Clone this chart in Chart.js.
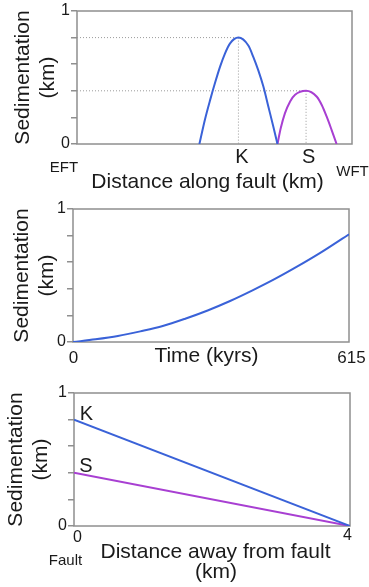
<!DOCTYPE html>
<html>
<head>
<meta charset="utf-8">
<script src="https://cdn.jsdelivr.net/npm/chart.js@4.4.1/dist/chart.umd.min.js"></script>
<style>
  html, body { margin: 0; padding: 0; background: #fff; }
  #wrap { position: relative; width: 369px; height: 587px; overflow: hidden; }
  canvas { position: absolute; left: 0; }
</style>
</head>
<body>
<div id="wrap">
  <canvas id="c1" width="369" height="195" style="top:0px"></canvas>
  <canvas id="c2" width="369" height="180" style="top:195px"></canvas>
  <canvas id="c3" width="369" height="212" style="top:375px"></canvas>
</div>
<script>
// panel 1: sedimentation along the fault (EFT = 0 .. WFT = 100)
var kDist = [44.5, 46.6, 48.4, 50.2, 52.0, 53.8, 55.6, 58.7, 62.3, 64.1, 65.9, 67.8, 69.6, 71.4, 72.9];
var kSed  = [0, 0.19, 0.33, 0.46, 0.58, 0.68, 0.755, 0.8, 0.74, 0.655, 0.555, 0.43, 0.28, 0.13, 0];
var sDist = [72.9, 74.1, 75.6, 77.5, 79.3, 83.3, 87.2, 89.0, 90.8, 92.6, 94.4];
var sSed  = [0, 0.12, 0.23, 0.32, 0.37, 0.4, 0.355, 0.293, 0.205, 0.105, 0];

// panel 2: sedimentation through time
var timeKyr = [0, 50, 100, 150, 200, 250, 300, 350, 400, 450, 500, 550, 615];
var timeSed = [0, 0.02, 0.045, 0.08, 0.12, 0.175, 0.237, 0.308, 0.388, 0.474, 0.568, 0.668, 0.81];

// panel 3: sedimentation away from the fault
var awayKm = [0, 4];
var awayK  = [0.8, 0];
var awayS  = [0.4, 0];

// tick labels
var sedTicks  = [0, 1];
var timeTicks = [0, 615];
var awayTicks = [0, 4];

var FONT = '"Liberation Sans", Arial, sans-serif';
var INK = '#1a1a1a';
var GREY = '#8f8f8f';
var BLUE = '#3a62d8';
var PURPLE = '#a83fd2';

function pts(xs, ys) {
    return xs.map(function (x, i) { return {x: x, y: ys[i]}; });
}

function peakOf(xs, ys) {
    var m = 0;
    for (var i = 1; i < ys.length; i++) {
        if (ys[i] > ys[m]) m = i;
    }
    return {x: xs[m], y: ys[m]};
}

function curve(data, color) {
    return {
        data: data, borderColor: color, borderWidth: 2, pointRadius: 0,
        cubicInterpolationMode: 'monotone', fill: false
    };
}

function guide(data) {
    return {
        data: data, borderColor: '#9a9a9a', borderWidth: 1, borderDash: [1, 2],
        pointRadius: 0, fill: false
    };
}

// plot frame on all four sides
var boxPlugin = {
    id: 'box',
    beforeDatasetsDraw: function (chart) {
        var a = chart.chartArea, ctx = chart.ctx;
        ctx.save();
        ctx.strokeStyle = GREY;
        ctx.lineWidth = 1.5;
        ctx.strokeRect(a.left, a.top, a.right - a.left, a.bottom - a.top);
        ctx.restore();
    }
};

// free text placed in data units (baseline at y)
var notesPlugin = {
    id: 'notes',
    afterDraw: function (chart, args, opts) {
        var ctx = chart.ctx, sx = chart.scales.x, sy = chart.scales.y;
        var items = opts.items || [];
        for (var i = 0; i < items.length; i++) {
            var n = items[i];
            ctx.save();
            ctx.font = n.size + 'px ' + FONT;
            ctx.fillStyle = INK;
            ctx.textAlign = 'center';
            ctx.textBaseline = 'alphabetic';
            ctx.fillText(n.text, sx.getPixelForValue(n.x) + (n.dx || 0), sy.getPixelForValue(n.y));
            ctx.restore();
        }
    }
};

function sedAxis(width, titlePad) {
    return {
        type: 'linear', min: 0, max: 1,
        afterFit: function (s) { s.width = width; },
        border: {display: false},
        grid: {drawOnChartArea: false, drawTicks: true, tickLength: 6, color: GREY, lineWidth: 1.5},
        ticks: {
            stepSize: 0.2, padding: 1, color: INK, font: {family: FONT, size: 16},
            callback: function (v) { return sedTicks.indexOf(v) >= 0 ? String(v) : ''; }
        },
        title: {
            display: true, text: ['Sedimentation', '(km)'], color: INK,
            font: {family: FONT, size: 21, lineHeight: '25px'},
            padding: {top: titlePad, bottom: 0}
        }
    };
}

function makeChart(id, datasets, xMin, xMax, yWidth, titlePad, pad, notes) {
    return new Chart(document.getElementById(id), {
        type: 'line',
        data: {datasets: datasets},
        options: {
            responsive: false,
            animation: false,
            events: [],
            layout: {padding: pad},
            scales: {
                x: {type: 'linear', min: xMin, max: xMax, display: false},
                y: sedAxis(yWidth, titlePad)
            },
            plugins: {
                legend: {display: false},
                tooltip: {enabled: false},
                notes: {items: notes}
            }
        },
        plugins: [boxPlugin, notesPlugin]
    });
}

// ---- panel 1
var kPk = peakOf(kDist, kSed), sPk = peakOf(sDist, sSed);
makeChart('c1', [
    curve(pts(kDist, kSed), BLUE),
    curve(pts(sDist, sSed), PURPLE),
    guide([{x: 0, y: kPk.y}, {x: kPk.x, y: kPk.y}]),
    guide([{x: kPk.x, y: kPk.y}, {x: kPk.x, y: 0}]),
    guide([{x: 0, y: sPk.y}, {x: sPk.x, y: sPk.y}]),
    guide([{x: sPk.x, y: sPk.y}, {x: sPk.x, y: 0}])
], 0, 100, 77, 10.5, {left: 0, top: 11, right: 17, bottom: 51}, [
    {text: 'EFT', x: 0, dx: -13, y: -0.207, size: 15},
    {text: 'WFT', x: 100, dx: 0.5, y: -0.244, size: 15},
    {text: 'K', x: kPk.x, dx: 3.5, y: -0.143, size: 20},
    {text: 'S', x: sPk.x, dx: 2.5, y: -0.143, size: 20},
    {text: 'Distance along fault (km)', x: 50, dx: -7, y: -0.331, size: 21}
]);

// ---- panel 2
makeChart('c2', [
    curve(pts(timeKyr, timeSed), BLUE)
], 0, 615, 73, 9.5, {left: 0, top: 14, right: 20, bottom: 33}, [
    {text: String(timeTicks[0]), x: timeTicks[0], dx: 0.5, y: -0.158, size: 17},
    {text: String(timeTicks[1]), x: timeTicks[1], dx: 2.5, y: -0.158, size: 17},
    {text: 'Time (kyrs)', x: 307.5, dx: -4.5, y: -0.154, size: 21}
]);

// ---- panel 3
makeChart('c3', [
    curve(pts(awayKm, awayK), BLUE),
    curve(pts(awayKm, awayS), PURPLE)
], 0, 4, 74, 3.5, {left: 0, top: 18, right: 19, bottom: 61}, [
    {text: String(awayTicks[0]), x: awayTicks[0], dx: 3.5, y: -0.118, size: 16},
    {text: String(awayTicks[1]), x: awayTicks[1], dx: -2.5, y: -0.105, size: 16},
    {text: 'Fault', x: 0, dx: -8.5, y: -0.293, size: 15},
    {text: 'Distance away from fault', x: 2, dx: 3.5, y: -0.238, size: 21},
    {text: '(km)', x: 2, dx: 4, y: -0.393, size: 21},
    {text: 'K', x: 0, dx: 12.5, y: 0.797, size: 20},
    {text: 'S', x: 0, dx: 12, y: 0.406, size: 20}
]);
</script>
</body>
</html>
